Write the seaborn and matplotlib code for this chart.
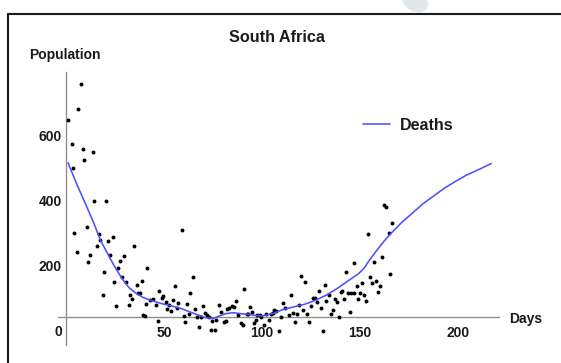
import matplotlib
matplotlib.use("Agg")
import matplotlib.pyplot as plt
from matplotlib.lines import Line2D
from matplotlib.patches import Ellipse
from matplotlib.ticker import MultipleLocator, FixedLocator
import pandas as pd
import seaborn as sns

# Daily reported deaths (observed)
day = [0.9, 2.7, 3.3, 4.0, 5.3, 6.0, 7.7, 8.4, 9.2, 10.4, 11.2, 11.9, 13.6, 14.3,
       15.8, 16.5, 17.4, 18.7, 19.4, 20.1, 21.4, 22.2, 23.8, 24.5, 25.3, 26.6,
       27.5, 28.4, 29.7, 30.4, 31.9, 32.6, 33.5, 34.8, 36.1, 36.8, 37.9, 38.6,
       39.4, 40.1, 40.8, 41.4, 43.0, 44.3, 45.8, 46.7, 47.4, 48.9, 49.6, 50.9,
       51.6, 52.4, 53.5, 54.6, 55.3, 56.4, 57.3, 59.0, 59.9, 60.4, 61.5, 62.8,
       63.4, 64.7, 65.8, 67.0, 67.9, 68.9, 70.0, 70.9, 71.8, 72.7, 74.0, 74.4,
       76.0, 76.7, 78.0, 79.1, 80.4, 81.5, 82.2, 83.3, 84.4, 85.5, 86.6, 87.7,
       89.2, 90.1, 90.7, 92.1, 93.0, 94.0, 94.9, 95.6, 96.9, 97.6, 98.9, 99.6,
       100.7, 102.0, 103.5, 104.6, 105.3, 106.2, 107.1, 108.6, 109.5, 110.8,
       111.9, 113.6, 114.5, 115.9, 116.8, 117.8, 118.7, 119.6, 120.9, 122.0,
       122.9, 124.0, 124.9, 125.8, 126.9, 128.0, 129.1, 130.0, 131.0, 132.0,
       132.8, 133.9, 135.0, 136.1, 137.4, 138.3, 139.0, 140.1, 141.0, 141.9,
       143.0, 143.8, 144.7, 145.6, 146.7, 147.1, 148.2, 148.9, 150.0, 151.1,
       152.0, 152.9, 154.2, 155.1, 156.2, 157.1, 158.1, 159.3, 160.3, 161.0,
       162.3, 163.0, 164.5, 165.4, 166.1]
deaths = [646, 574, 500, 299, 243, 681, 756, 558, 525, 318, 212, 233, 548, 398,
          260, 296, 279, 110, 182, 398, 274, 233, 287, 151, 76, 194,
          214, 164, 230, 151, 81, 110, 97, 260, 141, 115, 115, 154,
          48, 46, 84, 194, 94, 99, 79, 31, 123, 102, 107, 89,
          66, 79, 62, 94, 137, 69, 86, 310, 45, 26, 84, 53,
          117, 164, 66, 43, 12, 43, 76, 56, 48, 43, 2, 31,
          2, 35, 79, 58, 26, 31, 66, 69, 76, 72, 92, 48,
          23, 17, 128, 53, 53, 72, 58, 23, 35, 48, 48, 43,
          17, 51, 35, 53, 56, 64, 61, 0, 43, 86,
          69, 48, 110, 56, 26, 53, 79, 168, 64, 151,
          53, 26, 76, 102, 102, 89, 123, 69, 0, 141,
          92, 110, 53, 64, 99, 89, 43, 120, 123, 97,
          182, 115, 58, 115, 115, 207, 137, 97, 115, 146,
          110, 92, 296, 164, 146, 212, 154, 119, 138, 226,
          385, 379, 299, 173, 330]

# Fitted model curve
fit_day = [0.9, 5.5, 10.0, 14.1, 17.4, 21.0, 24.7, 28.4, 32.0, 35.7, 39.4, 43.0,
           48.5, 54.0, 58.6, 63.2, 67.8, 71.4, 75.1, 77.8, 81.5, 85.2, 88.8,
           92.5, 96.2, 99.8, 105.3, 110.8, 116.3, 121.8, 127.3, 132.8, 138.3,
           143.8, 149.3, 152.0, 154.8, 158.4, 162.1, 165.8, 171.2, 176.7, 182.2,
           187.7, 193.2, 198.7, 204.2, 211.5, 217.0]
fit_deaths = [515, 448, 387, 330, 279, 238, 197, 161, 133, 115, 102, 94,
              84, 76, 69, 58, 48, 40, 38, 45, 53, 56, 53,
              51, 48, 46, 53, 66, 74, 82, 94, 110, 130,
              153, 176, 192, 217, 246, 274, 299, 332, 361, 390,
              414, 438, 458, 477, 497, 513]

x_major = [50, 100, 150, 200]
y_major = [0, 200, 400, 600]

sns.set_style("white")
plt.rcParams["font.family"] = ["Liberation Sans", "DejaVu Sans"]

W, H = 561, 363
fig = plt.figure(figsize=(W / 100, H / 100), dpi=100)
fig.patch.set_facecolor("white")
ax = fig.add_axes([58 / W, 1 - 345 / H, (499 - 58) / W, (345 - 71.7) / H])
ax.set_facecolor("none")

obs = pd.DataFrame({"Day": day, "Deaths": deaths})
fit = pd.DataFrame({"Day": fit_day, "Deaths": fit_deaths})

sns.scatterplot(data=obs, x="Day", y="Deaths", ax=ax, color="black",
                s=8, linewidth=0, legend=False, zorder=3)
sns.lineplot(data=fit, x="Day", y="Deaths", ax=ax, color="#4f4fff",
             linewidth=1.15, label="Deaths", zorder=4)

ax.set_xlim(-4.2, 220.9)
ax.set_ylim(-43, 794)
ax.set_xlabel("")
ax.set_ylabel("")

axis_gray = "#8f8f8f"
for side in ("top", "right"):
    ax.spines[side].set_visible(False)
ax.spines["left"].set_position(("data", 0))
ax.spines["bottom"].set_position(("data", 42))
for side in ("left", "bottom"):
    ax.spines[side].set_color(axis_gray)
    ax.spines[side].set_linewidth(1.0)

ax.xaxis.set_major_locator(FixedLocator(x_major))
ax.xaxis.set_minor_locator(MultipleLocator(10))
ax.yaxis.set_major_locator(FixedLocator(y_major))
ax.yaxis.set_minor_locator(MultipleLocator(50))
ax.set_xticklabels([str(v) for v in x_major])
ax.set_yticklabels([str(v) for v in y_major])

ax.tick_params(axis="both", which="both", direction="in", color=axis_gray,
               width=0.8, labelcolor="#1a1a1a", labelsize=10)
ax.tick_params(axis="both", which="major", length=3.6)
ax.tick_params(axis="both", which="minor", length=2.0)
ax.tick_params(axis="x", which="major", pad=6.3)
ax.tick_params(axis="y", which="major", pad=3.2)
for lbl in ax.get_xticklabels() + ax.get_yticklabels():
    lbl.set_fontweight("bold")

leg = ax.legend(loc="center left", bbox_to_anchor=(363 / W, 1 - 125 / H),
                bbox_transform=fig.transFigure, frameon=False, borderpad=0,
                borderaxespad=0, handlelength=1.7, handletextpad=0.6,
                prop={"size": 11.5, "weight": "bold"})
for t in leg.get_texts():
    t.set_color("#1a1a1a")

fig.text(277 / W, 1 - 41.5 / H, "South Africa", ha="center", va="baseline",
         fontsize=11.7, fontweight="bold", color="#1a1a1a")
fig.text(29 / W, 1 - 59.5 / H, "Population", ha="left", va="baseline",
         fontsize=10, fontweight="bold", color="#1a1a1a")
fig.text(509 / W, 1 - 322.5 / H, "Days", ha="left", va="baseline",
         fontsize=10, fontweight="bold", color="#1a1a1a")

# Page frame around the graphic
fig.add_artist(Ellipse((415 / W, 1 - 1 / H), 24 / W, 24 / H, angle=20,
                       transform=fig.transFigure, facecolor="#e0e6e9",
                       edgecolor="none", zorder=0))
fig.add_artist(Line2D([8.3 / W, 8.3 / W], [0, 1 - 13.7 / H],
                      transform=fig.transFigure, color="#1a1a1a", linewidth=1.5))
fig.add_artist(Line2D([8.3 / W, 1.0], [1 - 13.7 / H, 1 - 13.7 / H],
                      transform=fig.transFigure, color="#1a1a1a", linewidth=1.5))

fig.savefig("out.png", dpi=100, facecolor="white")
